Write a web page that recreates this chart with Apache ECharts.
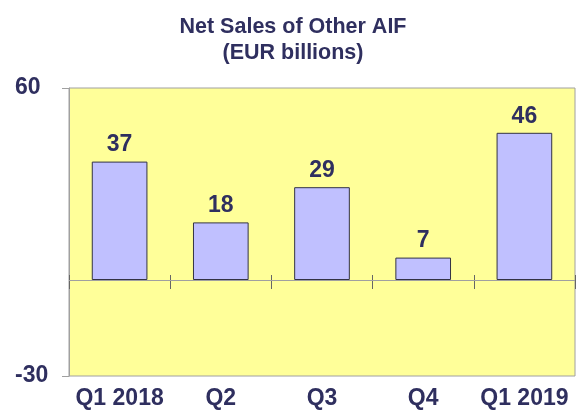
<!DOCTYPE html>
<html>
<head>
<meta charset="utf-8">
<script src="https://cdn.jsdelivr.net/npm/echarts@6/dist/echarts.min.js"></script>
<style>
  html, body { margin: 0; padding: 0; background: #fff; }
  #main { width: 578px; height: 410px; }
</style>
</head>
<body>
<div id="main"></div>
<script>
    // Net sales of other AIF, EUR billions
    var quarters = ['Q1 2018', 'Q2', 'Q3', 'Q4', 'Q1 2019'];
    var netSales = [37, 18, 29, 7, 46];
    var yMin = -30, yMax = 60;

    var navy = '#2f2f5f';
    var gridTop = 88, gridBottom = 31;
    // distance from top of plot down to the zero line
    var plotH = 410 - gridTop - gridBottom;
    var zeroFromTop = plotH * yMax / (yMax - yMin);
    var tickHalf = 7;

    var myChart = echarts.init(document.getElementById('main'));
    var option = {
        animation: false,
        title: {
            text: 'Net Sales of Other AIF\n(EUR billions)',
            left: 288,
            textAlign: 'center',
            top: 9,
            textStyle: {
                fontFamily: 'Liberation Sans',
                fontWeight: 'bold',
                fontSize: 21.5,
                lineHeight: 26,
                color: navy
            }
        },
        grid: {
            left: 69,
            right: 3,
            top: gridTop,
            bottom: gridBottom,
            containLabel: false,
            show: true,
            backgroundColor: '#ffff99',
            borderColor: '#a0a0a0',
            borderWidth: 1
        },
        xAxis: [
            {
                type: 'category',
                data: quarters,
                position: 'bottom',
                axisLine: { show: false, onZero: false },
                axisTick: { show: false },
                axisLabel: {
                    interval: 0,
                    margin: 11,
                    fontFamily: 'Liberation Sans',
                    fontWeight: 'bold',
                    fontSize: 23,
                    color: navy
                }
            },
            {
                // ticks crossing the zero line
                type: 'category',
                data: quarters,
                position: 'top',
                offset: -(zeroFromTop + tickHalf),
                axisLine: { show: false, onZero: false },
                axisTick: { show: true, interval: 0, inside: false, length: tickHalf * 2, lineStyle: { color: '#666' } },
                axisLabel: { show: false }
            }
        ],
        yAxis: {
            type: 'value',
            min: yMin,
            max: yMax,
            interval: 90,
            axisLine: { show: true, lineStyle: { color: '#a0a0a0' } },
            axisTick: { show: true, length: 7, lineStyle: { color: '#a0a0a0' } },
            splitLine: { show: false },
            axisLabel: {
                margin: 54,
                align: 'left',
                fontFamily: 'Liberation Sans',
                fontWeight: 'bold',
                fontSize: 23,
                color: navy
            }
        },
        series: [
            {
                name: 'Net sales',
                type: 'bar',
                data: netSales,
                barWidth: '55%',
                itemStyle: {
                    color: '#c0c0ff',
                    borderColor: '#333344',
                    borderWidth: 1
                },
                label: {
                    show: true,
                    position: 'top',
                    distance: 5,
                    fontFamily: 'Liberation Sans',
                    fontWeight: 'bold',
                    fontSize: 23,
                    color: navy
                },
                markLine: {
                    silent: true,
                    symbol: 'none',
                    label: { show: false },
                    lineStyle: { color: '#a0a0a0', type: 'solid', width: 1 },
                    data: [{ yAxis: 0 }]
                }
            }
        ]
    };
    myChart.setOption(option);
</script>
</body>
</html>
